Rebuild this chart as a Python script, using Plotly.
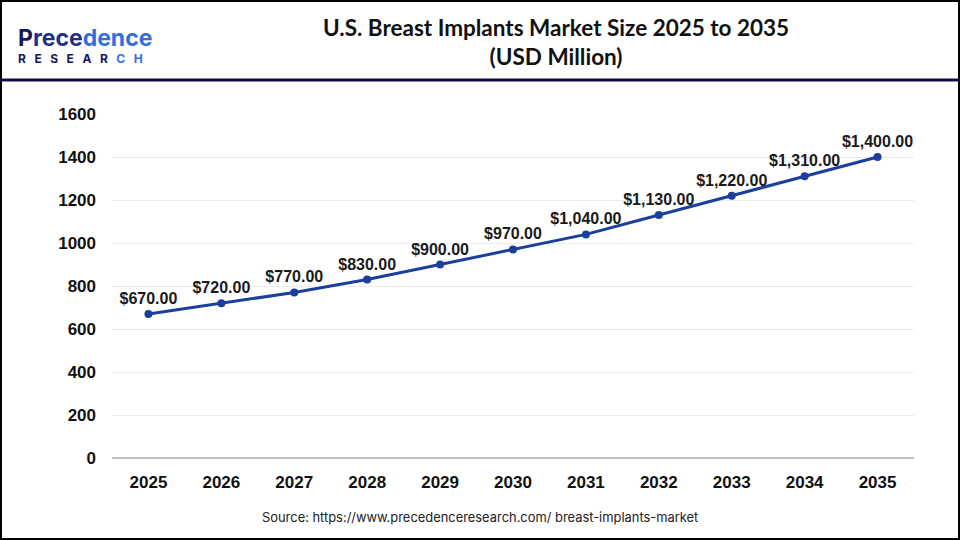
import plotly.graph_objects as go

years = ["2025", "2026", "2027", "2028", "2029", "2030", "2031", "2032", "2033", "2034", "2035"]
market_size = [670, 720, 770, 830, 900, 970, 1040, 1130, 1220, 1310, 1400]
y_ticks = [0, 200, 400, 600, 800, 1000, 1200, 1400, 1600]

labels = ["${:,.2f}".format(v) for v in market_size]

# plot area in pixels: left 112, right 914, top 114, bottom 458
PW, PH = 802, 344

def px(x):
    return (x - 112) / PW

def py(y):
    return (458 - y) / PH

fig = go.Figure()
fig.add_trace(go.Scatter(
    x=years, y=market_size,
    mode="lines+markers+text",
    line=dict(color="#1b3f9c", width=3),
    marker=dict(color="#1b3f9c", size=8),
    text=labels,
    textposition="top center",
    textfont=dict(family="Arial", size=16, color="#1a1a1a", weight="bold"),
    cliponaxis=False,
    hoverinfo="skip",
))

fig.update_layout(
    width=960, height=540,
    margin=dict(l=112, r=46, t=114, b=82, autoexpand=False),
    paper_bgcolor="white", plot_bgcolor="white",
    showlegend=False,
    xaxis=dict(
        type="category",
        range=[-0.5, len(years) - 0.5],
        automargin=False,
        showgrid=False,
        showline=False,
        ticks="",
        ticklabelstandoff=12,
        tickfont=dict(family="Arial", size=17, color="#111111", weight="bold"),
    ),
    yaxis=dict(
        range=[0, 1600],
        tickvals=y_ticks,
        automargin=False,
        showgrid=True, gridcolor="#ececec", gridwidth=1,
        zeroline=True, zerolinecolor="#bfbfbf", zerolinewidth=2,
        ticks="", ticklen=0,
        ticklabelstandoff=15,
        tickfont=dict(family="Arial", size=17, color="#111111", weight="bold"),
    ),
    shapes=[
        # outer frame
        dict(type="rect", xref="paper", yref="paper", x0=px(1), x1=px(959),
             y0=py(539), y1=py(1), line=dict(color="black", width=2)),
        # header separator
        dict(type="line", xref="paper", yref="paper", x0=px(0), x1=px(960),
             y0=py(80), y1=py(80), line=dict(color="#0e0e3f", width=3)),
    ],
)

fig.add_annotation(
    text="<b>U.S. Breast Implants Market Size 2025 to 2035<br>(USD Million)</b>",
    xref="paper", yref="paper", x=px(556), y=py(12),
    xanchor="center", yanchor="top", showarrow=False, align="center",
    font=dict(family="Lato", size=22.5, color="#111111"),
)
# logo as two lines of text in one annotation
fig.add_annotation(
    text="<b><span style='font-size:23px'><span style='color:#14175a'>P</span>"
         "<span style='color:#1f2f8a'>rece</span><span style='color:#2f6fe0'>dence</span></span><br>"
         "<span style='font-size:12px'><span style='color:#14175a'>"
         "R&nbsp;&nbsp;&nbsp;E&nbsp;&nbsp;&nbsp;S&nbsp;&nbsp;&nbsp;E&nbsp;&nbsp;&nbsp;A&nbsp;&nbsp;&nbsp;R&nbsp;&nbsp;&nbsp;</span>"
         "<span style='color:#2f6fe0'>C&nbsp;&nbsp;&nbsp;H</span></span></b>",
    xref="paper", yref="paper", x=px(16), y=py(45),
    xanchor="left", yanchor="middle", showarrow=False, align="left",
    font=dict(family="Inter", size=13),
)
fig.add_annotation(
    text="Source: https://www.precedenceresearch.com/ breast-implants-market",
    xref="paper", yref="paper", x=px(480), y=py(517),
    xanchor="center", yanchor="middle", showarrow=False,
    font=dict(family="Inter", size=12.9, color="#222222"),
)

fig.write_html("out.html", config={"displayModeBar": False},
               post_script="document.body.style.margin = '0';")
